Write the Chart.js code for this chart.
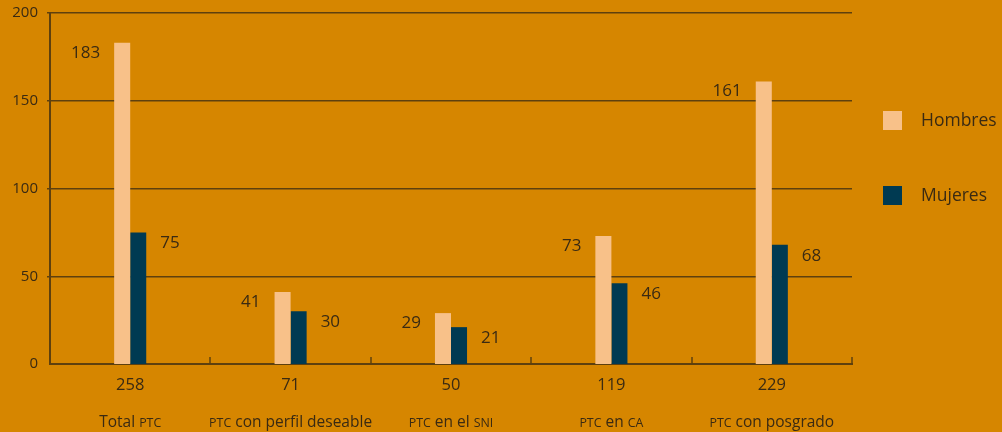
<!DOCTYPE html>
<html>
<head>
<meta charset="utf-8">
<script src="https://cdn.jsdelivr.net/npm/chart.js@4.4.1/dist/chart.umd.min.js"></script>
<style>
  html, body { margin: 0; padding: 0; background: #d68600; overflow: hidden; }
  #marco { width: 1002px; height: 432px; overflow: hidden; position: relative; }
  #wrap { width: 1002px; height: 437px; position: absolute; top: -5px; left: 0; }
</style>
</head>
<body>
<div id="marco"><div id="wrap"><canvas id="myChart"></canvas></div></div>
<script>
// categorías y valores
var categorias = ['Total PTC', 'PTC con perfil deseable', 'PTC en el SNI', 'PTC en CA', 'PTC con posgrado'];
var totales = [258, 71, 50, 119, 229];
var hombres = [183, 41, 29, 73, 161];
var mujeres = [75, 30, 21, 46, 68];
var yTicks = [0, 50, 100, 150, 200];

var FUENTE = '"Open Sans", sans-serif';
var TINTA = '#3a2a12';
var LINEA = '#5e400e';
var DESFASE = 5; // el lienzo está subido 5px dentro del marco

// texto con siglas en versalitas (PTC, SNI, CA)
function textoVersalitas(ctx, texto, cx, y, size) {
    var partes = texto.split(/(\b[A-Z]{2,}\b)/).filter(function(p){ return p.length; });
    var chico = Math.round(size * 0.8 * 10) / 10;
    var ancho = 0;
    partes.forEach(function(p){
        ctx.font = (/^[A-Z]{2,}$/.test(p) ? chico : size) + 'px ' + FUENTE;
        ancho += ctx.measureText(p).width;
    });
    var x = cx - ancho / 2;
    ctx.textAlign = 'left';
    partes.forEach(function(p){
        ctx.font = (/^[A-Z]{2,}$/.test(p) ? chico : size) + 'px ' + FUENTE;
        ctx.fillText(p, x, y);
        x += ctx.measureText(p).width;
    });
}

var extras = {
    id: 'extras',
    afterDatasetsDraw: function(chart) {
        var ctx = chart.ctx;
        var xs = chart.scales.x;
        var area = chart.chartArea;
        var paso = xs.getPixelForValue(1) - xs.getPixelForValue(0);
        ctx.save();

        // marcas cortas entre categorías sobre el eje
        ctx.strokeStyle = LINEA;
        ctx.lineWidth = 1.5;
        for (var i = 0; i < categorias.length; i++) {
            var px = Math.round(xs.getPixelForValue(i) + paso / 2);
            ctx.beginPath();
            ctx.moveTo(px, area.bottom);
            ctx.lineTo(px, area.bottom - 7);
            ctx.stroke();
        }

        // etiquetas de valores
        ctx.fillStyle = TINTA;
        ctx.font = '17px ' + FUENTE;
        ctx.textBaseline = 'middle';
        chart.getDatasetMeta(0).data.forEach(function(bar, j) {
            ctx.textAlign = 'right';
            ctx.fillText(String(hombres[j]), bar.x - bar.width / 2 - 14, bar.y + 10);
        });
        chart.getDatasetMeta(1).data.forEach(function(bar, j) {
            ctx.textAlign = 'left';
            ctx.fillText(String(mujeres[j]), bar.x + bar.width / 2 + 14, bar.y + 11);
        });

        // nombres de categoría
        categorias.forEach(function(c, j) {
            textoVersalitas(ctx, c, xs.getPixelForValue(j), 423 + DESFASE, 15.5);
        });

        // leyenda
        var items = [
            { t: 'Hombres', c: chart.data.datasets[0].backgroundColor, y: 121 + DESFASE },
            { t: 'Mujeres', c: chart.data.datasets[1].backgroundColor, y: 196 + DESFASE }
        ];
        items.forEach(function(it) {
            ctx.fillStyle = it.c;
            ctx.fillRect(883, it.y - 10, 19, 19);
            ctx.fillStyle = TINTA;
            ctx.font = '17.5px ' + FUENTE;
            ctx.textAlign = 'left';
            ctx.fillText(it.t, 921, it.y);
        });
        ctx.restore();
    }
};

var ctx = document.getElementById('myChart').getContext('2d');
var chart = new Chart(ctx, {
    type: 'bar',
    data: {
        labels: categorias,
        datasets: [{
            label: 'Hombres',
            data: hombres,
            backgroundColor: '#f8c189'
        }, {
            label: 'Mujeres',
            data: mujeres,
            backgroundColor: '#003a52'
        }]
    },
    options: {
        responsive: true,
        maintainAspectRatio: false,
        animation: false,
        categoryPercentage: 0.2,
        barPercentage: 1.0,
        layout: { padding: { top: 8, right: 150, left: 0, bottom: 0 } },
        plugins: {
            legend: { display: false },
            tooltip: { enabled: false }
        },
        scales: {
            x: {
                grid: { display: false, drawTicks: false },
                border: { display: true, color: LINEA, width: 2 },
                ticks: {
                    padding: 11,
                    color: TINTA,
                    font: { family: FUENTE, size: 16.5 },
                    callback: function(v, i) { return String(totales[i]); }
                },
                afterFit: function(s) { s.height = 68; }
            },
            y: {
                min: 0,
                max: 200,
                afterBuildTicks: function(s) { s.ticks = yTicks.map(function(v){ return { value: v }; }); },
                grid: { color: LINEA, lineWidth: function(c){ return c.tick.value === 0 ? 0 : 1.5; }, tickLength: 3, drawTicks: true },
                border: { display: true, color: LINEA, width: 2 },
                ticks: {
                    padding: 9,
                    color: TINTA,
                    font: { family: FUENTE, size: 15 }
                },
                afterFit: function(s) { s.width = 50; }
            }
        }
    },
    plugins: [extras]
});
</script>
</body>
</html>
